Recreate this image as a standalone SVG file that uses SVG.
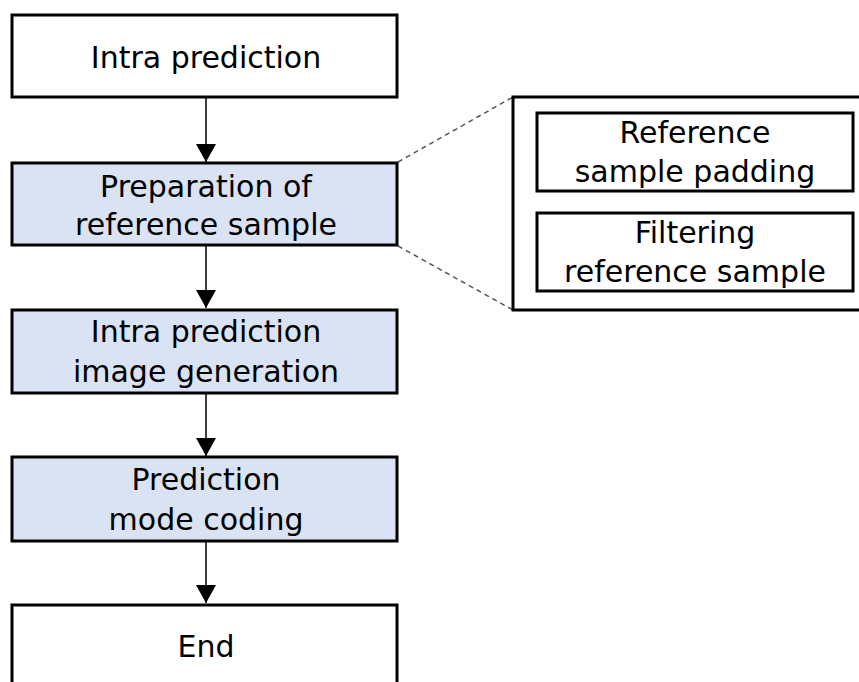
<svg xmlns="http://www.w3.org/2000/svg" width="859" height="682" viewBox="0 0 859 682">
<style>
.box{stroke:#000;stroke-width:3;fill:#fff}
.blue{fill:#dae3f3}
.inner{stroke:#000;stroke-width:3;fill:#fff}
text{font-family:"DejaVu Sans","Noto Sans",sans-serif;font-size:30px;fill:#000;text-anchor:middle}
.conn{stroke:#000;stroke-width:1.5;fill:none}
.dash{stroke:#555;stroke-width:1.5;fill:none;stroke-dasharray:5,4}
</style>
<defs>
<marker id="ah" markerWidth="20" markerHeight="20" refX="18" refY="10" orient="auto" markerUnits="userSpaceOnUse">
<path d="M0,0 L18,10 L0,20 Z" fill="#000"/>
</marker>
</defs>
<rect x="0" y="0" width="859" height="682" fill="#fff"/>
<g id="connectors">
<line class="conn" x1="206" y1="97" x2="206" y2="162" marker-end="url(#ah)"/>
<line class="conn" x1="206" y1="245" x2="206" y2="308" marker-end="url(#ah)"/>
<line class="conn" x1="206" y1="393" x2="206" y2="456" marker-end="url(#ah)"/>
<line class="conn" x1="206" y1="541" x2="206" y2="603" marker-end="url(#ah)"/>
<line class="dash" x1="398" y1="162" x2="513" y2="97"/>
<line class="dash" x1="398" y1="246" x2="513" y2="310"/>
</g>
<g id="n1">
<rect class="box" x="12" y="15" width="385" height="82"/>
<text x="206" y="68">Intra prediction</text>
</g>
<g id="n2">
<rect class="box blue" x="12" y="163" width="385" height="82"/>
<text x="206" y="197">Preparation of</text>
<text x="206" y="235">reference sample</text>
</g>
<g id="n3">
<rect class="box blue" x="12" y="310" width="385" height="83"/>
<text x="206" y="342">Intra prediction</text>
<text x="206" y="382">image generation</text>
</g>
<g id="n4">
<rect class="box blue" x="12" y="457" width="385" height="84"/>
<text x="206" y="490">Prediction</text>
<text x="206" y="530">mode coding</text>
</g>
<g id="n5">
<rect class="box" x="12" y="605" width="385" height="90"/>
<text x="206" y="657">End</text>
</g>
<g id="detail">
<rect class="box" x="513" y="97" width="360" height="213" stroke-width="2.5"/>
<g id="d1">
<rect class="inner" x="537" y="113" width="316" height="78"/>
<text x="695" y="143">Reference</text>
<text x="695" y="182">sample padding</text>
</g>
<g id="d2">
<rect class="inner" x="537" y="213" width="316" height="78"/>
<text x="695" y="243">Filtering</text>
<text x="695" y="282">reference sample</text>
</g>
</g>
</svg>
